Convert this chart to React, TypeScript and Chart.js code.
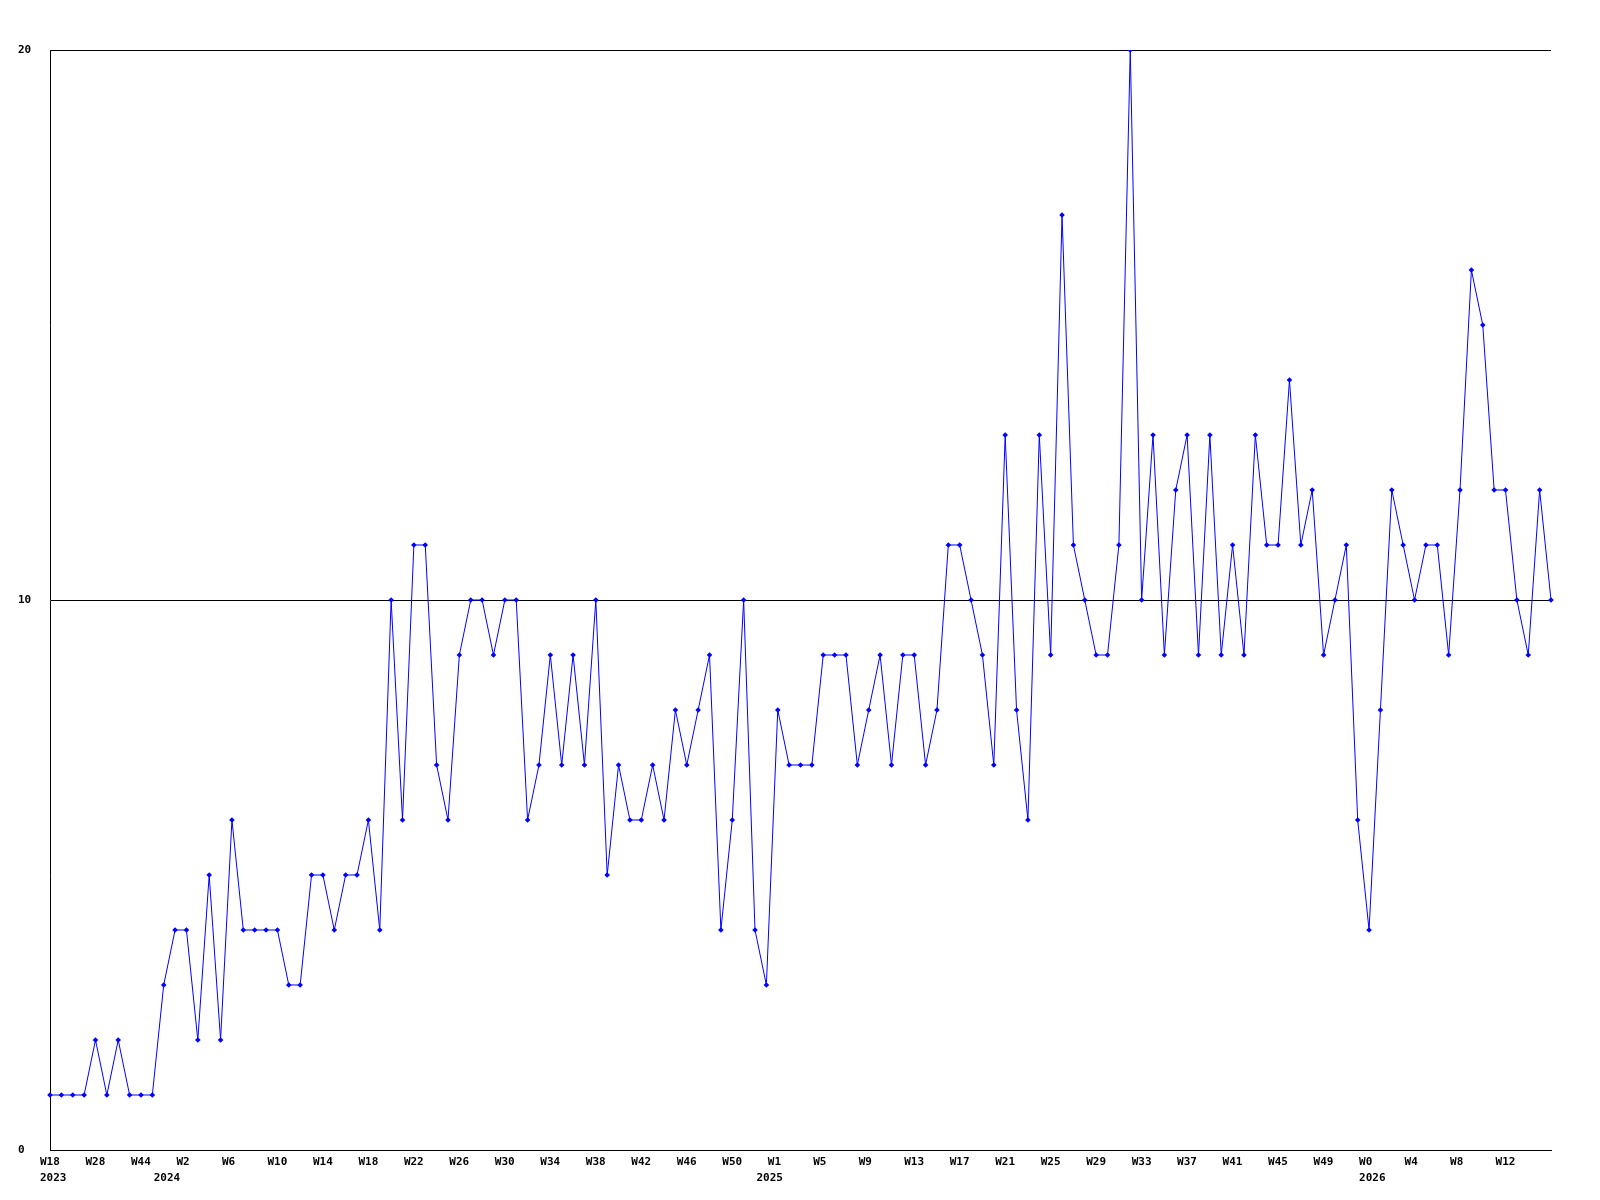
import React, { useEffect, useRef } from 'react';
import { Chart, registerables } from 'chart.js';

Chart.register(...registerables);

// Week categories (one per data point)
const weeks: string[] = [
  'W18', 'W20', 'W22', 'W25', 'W28', 'W31', 'W35', 'W40', 'W44', 'W48',
  'W0', 'W1', 'W2', 'W3', 'W4', 'W5', 'W6', 'W7', 'W8', 'W9', 'W10', 'W11', 'W12',
  'W13', 'W14', 'W15', 'W16', 'W17', 'W18', 'W19', 'W20', 'W21', 'W22', 'W23', 'W24',
  'W25', 'W26', 'W27', 'W28', 'W29', 'W30', 'W31', 'W32', 'W33', 'W34', 'W35', 'W36',
  'W37', 'W38', 'W39', 'W40', 'W41', 'W42', 'W43', 'W44', 'W45', 'W46', 'W47', 'W48',
  'W49', 'W50', 'W51', 'W52',
  'W0', 'W1', 'W2', 'W3', 'W4', 'W5', 'W6', 'W7', 'W8', 'W9', 'W10', 'W11', 'W12',
  'W13', 'W14', 'W15', 'W16', 'W17', 'W18', 'W19', 'W20', 'W21', 'W22', 'W23', 'W24',
  'W25', 'W26', 'W27', 'W28', 'W29', 'W30', 'W31', 'W32', 'W33', 'W34', 'W35', 'W36',
  'W37', 'W38', 'W39', 'W40', 'W41', 'W42', 'W43', 'W44', 'W45', 'W46', 'W47', 'W48',
  'W49', 'W50', 'W51', 'W52',
  'W0', 'W1', 'W2', 'W3', 'W4', 'W5', 'W6', 'W7', 'W8', 'W9', 'W10', 'W11',
  'W12', 'W13', 'W14', 'W15', 'W16',
];

// Year shown under the first week of each year: [index, year]
const yearStarts: [number, string][] = [
  [0, '2023'],
  [10, '2024'],
  [63, '2025'],
  [116, '2026'],
];

// Weekly counts
const counts: number[] = [
  1, 1, 1, 1, 2, 1, 2, 1, 1, 1,
  3, 4, 4, 2, 5, 2, 6, 4, 4, 4,
  4, 3, 3, 5, 5, 4, 5, 5, 6, 4,
  10, 6, 11, 11, 7, 6, 9, 10, 10, 9,
  10, 10, 6, 7, 9, 7, 9, 7, 10, 5,
  7, 6, 6, 7, 6, 8, 7, 8, 9, 4,
  6, 10, 4, 3, 8, 7, 7, 7, 9, 9,
  9, 7, 8, 9, 7, 9, 9, 7, 8, 11,
  11, 10, 9, 7, 13, 8, 6, 13, 9, 17,
  11, 10, 9, 9, 11, 20, 10, 13, 9, 12,
  13, 9, 13, 9, 11, 9, 13, 11, 11, 14,
  11, 12, 9, 10, 11, 6, 4, 8, 12, 11,
  10, 11, 11, 9, 12, 16, 15, 12, 12, 10,
  9, 12, 10,
];

const yTickValues: number[] = [0, 10, 20];
const labelEvery = 4;

export default function App() {
  const ref = useRef<HTMLCanvasElement>(null);

  useEffect(() => {
    const n = weeks.length;
    const tickText = (i: number): string | string[] => {
      const week = i % labelEvery === 0 && i < n - 1 ? weeks[i] : '';
      const y = yearStarts.find((p) => p[0] === i);
      return y ? [week, y[1]] : week;
    };
    const font = {
      family: '"DejaVu Sans Mono", monospace',
      size: 11,
      weight: 'bold' as const,
      lineHeight: '16px',
    };
    const chart = new Chart(ref.current!, {
      type: 'line',
      data: {
        labels: weeks,
        datasets: [
          {
            data: counts,
            borderColor: '#0000ff',
            backgroundColor: '#0000ff',
            borderWidth: 1,
            tension: 0,
            fill: false,
            pointStyle: 'rectRot',
            pointRadius: 2.8,
            pointBorderWidth: 0,
            pointBackgroundColor: '#0000ff',
          },
        ],
      },
      options: {
        animation: false,
        responsive: false,
        devicePixelRatio: 1,
        layout: { padding: { left: 18, right: 49, top: 50, bottom: 0 } },
        plugins: {
          legend: { display: false },
          tooltip: { enabled: false },
        },
        scales: {
          x: {
            type: 'category',
            offset: false,
            grid: { display: false, drawTicks: false },
            border: { display: true, color: '#000000', width: 1 },
            ticks: {
              autoSkip: false,
              maxRotation: 0,
              minRotation: 0,
              align: 'start',
              labelOffset: -10,
              padding: 4,
              color: '#000000',
              font,
              callback: (_v: any, i: number) => tickText(i),
            },
            afterFit: (s: any) => {
              s.height = 50;
            },
          },
          y: {
            min: 0,
            max: 20,
            afterBuildTicks: (s: any) => {
              s.ticks = yTickValues.map((v) => ({ value: v }));
            },
            grid: { color: '#000000', lineWidth: 1, drawTicks: false },
            border: { display: true, color: '#000000', width: 1 },
            ticks: {
              crossAlign: 'far',
              padding: 4,
              color: '#000000',
              font,
            },
            afterFit: (s: any) => {
              s.width = 32;
            },
          },
        },
      },
    });
    return () => chart.destroy();
  }, []);

  return (
    <div
      style={{
        position: 'absolute',
        left: 0,
        top: 0,
        width: 1600,
        height: 1200,
        background: '#ffffff',
      }}
    >
      <canvas ref={ref} width={1600} height={1200} style={{ display: 'block' }} />
    </div>
  );
}
